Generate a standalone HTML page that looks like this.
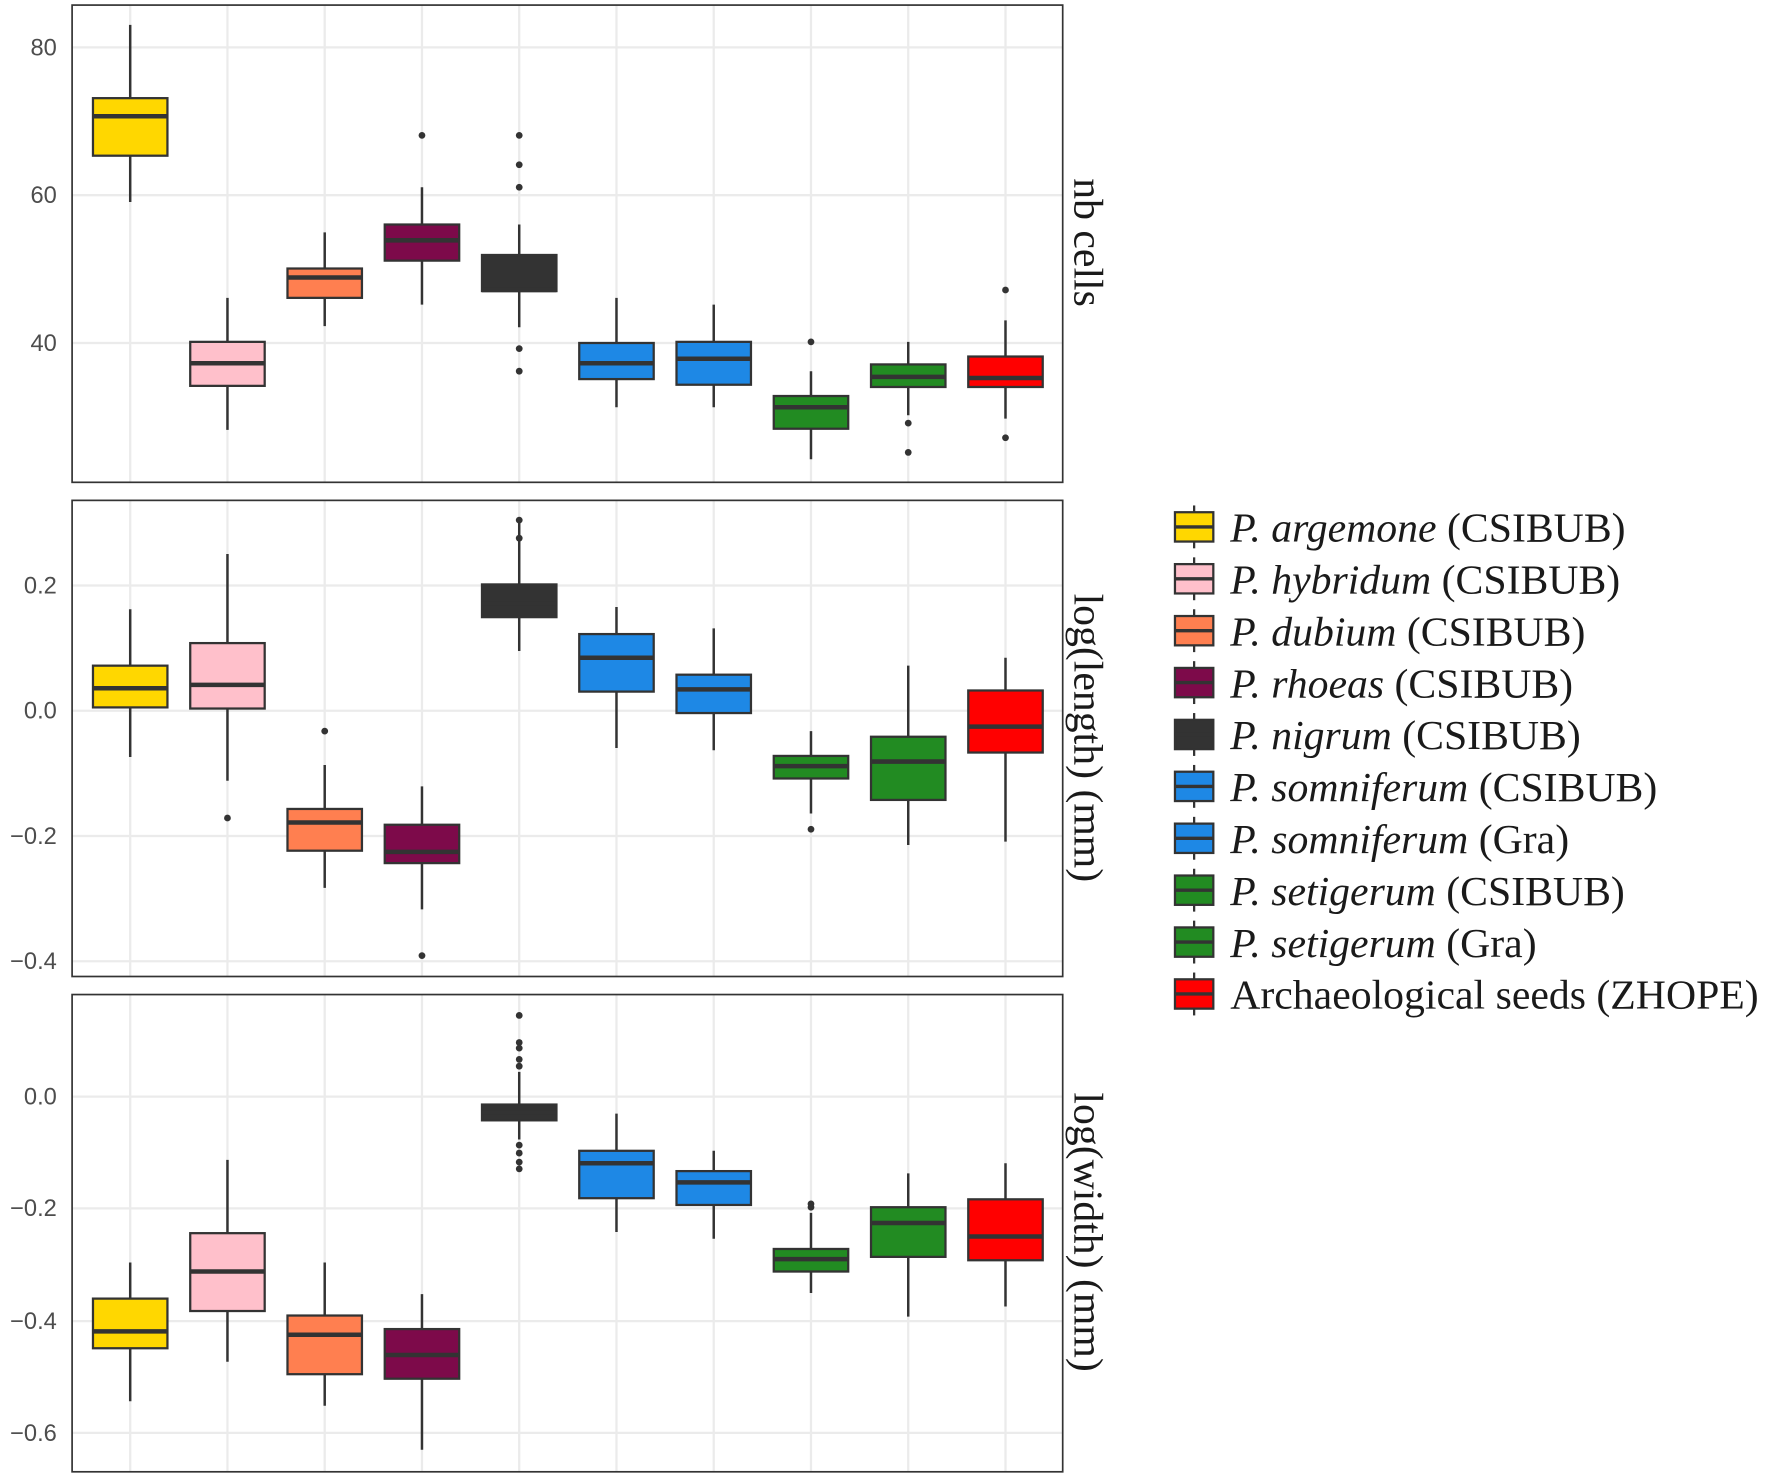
<!DOCTYPE html>
<html><head><meta charset="utf-8"><style>html,body{margin:0;padding:0;background:#fff}svg{display:block}</style></head>
<body>
<svg id="s" width="1770" height="1478" viewBox="0 0 1568 1310" xmlns="http://www.w3.org/2000/svg">
<rect width="1568" height="1310" fill="#fff"/>
<g id="grid"></g>
<g id="boxes"></g>
<g fill="none" stroke="#333" stroke-width="1.5">
<rect x="63.5" y="4.5" width="878" height="423"/>
<rect x="63.5" y="443.5" width="878" height="422"/>
<rect x="63.5" y="881.5" width="878" height="423"/>
</g>
<g font-family="Liberation Sans, sans-serif" font-size="21" fill="#4d4d4d" text-anchor="end">
<text x="50" y="49">80</text><text x="50" y="180">60</text><text x="50" y="311">40</text>
<text x="50" y="526">0.2</text><text x="50" y="637">0.0</text><text x="50" y="748">−0.2</text><text x="50" y="859">−0.4</text>
<text x="50" y="979">0.0</text><text x="50" y="1078">−0.2</text><text x="50" y="1178">−0.4</text><text x="50" y="1277">−0.6</text>
</g>
<g font-family="Liberation Serif, serif" font-size="37" fill="#1a1a1a" text-anchor="middle">
<text transform="translate(952,215) rotate(90)">nb cells</text>
<text transform="translate(952,654) rotate(90)">log(length) (mm)</text>
<text transform="translate(952,1092) rotate(90)">log(width) (mm)</text>
</g>
<g id="leg"></g>
<g font-family="Liberation Serif, serif" font-size="37" fill="#1a1a1a">
<text x="1090" y="480"><tspan font-style="italic">P. argemone</tspan> (CSIBUB)</text>
<text x="1090" y="526"><tspan font-style="italic">P. hybridum</tspan> (CSIBUB)</text>
<text x="1090" y="572"><tspan font-style="italic">P. dubium</tspan> (CSIBUB)</text>
<text x="1090" y="618"><tspan font-style="italic">P. rhoeas</tspan> (CSIBUB)</text>
<text x="1090" y="664"><tspan font-style="italic">P. nigrum</tspan> (CSIBUB)</text>
<text x="1090" y="710"><tspan font-style="italic">P. somniferum</tspan> (CSIBUB)</text>
<text x="1090" y="756"><tspan font-style="italic">P. somniferum</tspan> (Gra)</text>
<text x="1090" y="802"><tspan font-style="italic">P. setigerum</tspan> (CSIBUB)</text>
<text x="1090" y="848"><tspan font-style="italic">P. setigerum</tspan> (Gra)</text>
<text x="1090" y="894">Archaeological seeds (ZHOPE)</text>
</g>
<script>
var NS="http://www.w3.org/2000/svg";
function el(p,t,a){var e=document.createElementNS(NS,t);for(var k in a)e.setAttribute(k,a[k]);p.appendChild(e);return e;}
var cols=["#FFD700","#FFC0CB","#FF7F50","#7D0A4A","#333333","#1E88E5","#1E88E5","#228B22","#228B22","#FF0000"];
var xs=[];for(var i=0;i<10;i++)xs.push(115+i*86.2);
var g=document.getElementById("grid"),b=document.getElementById("boxes");
var panels=[[4,427,[42,173,304]],[443,865,[519,630,741,852]],[881,1304,[972,1071,1171,1270]]];
panels.forEach(function(p){
 xs.forEach(function(x){el(g,"line",{x1:x,x2:x,y1:p[0],y2:p[1],stroke:"#ebebeb","stroke-width":2});});
 p[2].forEach(function(y){el(g,"line",{x1:63,x2:941,y1:y,y2:y,stroke:"#ebebeb","stroke-width":2});});
});
var d=[
[[22,179,87,138,103,[]],[264,381,303,342,322,[]],[206,289,238,264,246,[]],[166,270,199,231,213,[120]],[199,290,226,258,257,[120,146,166,309,329]],[264,361,304,336,322,[]],[270,361,303,341,318,[]],[329,407,351,380,361,[303]],[303,368,323,343,334,[375,401]],[284,371,316,343,335,[257,388]]],
[[540,671,590,627,610,[]],[491,692,570,628,607,[725]],[678,787,717,754,729,[648]],[697,806,731,765,755,[847]],[461,577,518,547,535,[461,477]],[538,663,562,613,583,[]],[557,665,598,632,611,[]],[648,721,670,690,679,[735]],[590,749,653,709,675,[]],[583,746,612,667,644,[]]],
[[1119,1242,1151,1195,1180,[]],[1028,1207,1093,1162,1127,[]],[1119,1246,1166,1218,1183,[]],[1147,1285,1178,1222,1201,[]],[950,1010,979,993,986,[900,924,929,939,945,1015,1022,1030,1036]],[987,1092,1020,1062,1031,[]],[1020,1098,1038,1068,1048,[]],[1075,1146,1107,1127,1116,[1067,1070]],[1040,1167,1070,1114,1084,[]],[1031,1158,1063,1117,1096,[]]]];
d.forEach(function(pan){pan.forEach(function(v,i){var x=xs[i];
 el(b,"line",{x1:x,x2:x,y1:v[0],y2:v[1],stroke:"#333","stroke-width":2.2});
 el(b,"rect",{x:x-33,y:v[2],width:66,height:v[3]-v[2],fill:cols[i],stroke:"#333","stroke-width":2});
 el(b,"line",{x1:x-33,x2:x+33,y1:v[4],y2:v[4],stroke:"#333","stroke-width":4});
 v[5].forEach(function(o){el(b,"circle",{cx:x,cy:o,r:3,fill:"#333"});});
});});
var l=document.getElementById("leg");
cols.forEach(function(c,i){var y=467+i*46,x=1058;
 el(l,"line",{x1:x,x2:x,y1:y-19,y2:y+19,stroke:"#333","stroke-width":2});
 el(l,"rect",{x:x-17,y:y-13,width:34,height:26,fill:c,stroke:"#333","stroke-width":2});
 el(l,"line",{x1:x-17,x2:x+17,y1:y,y2:y,stroke:"#333","stroke-width":3});
});
</script>
</svg>
</body></html>
